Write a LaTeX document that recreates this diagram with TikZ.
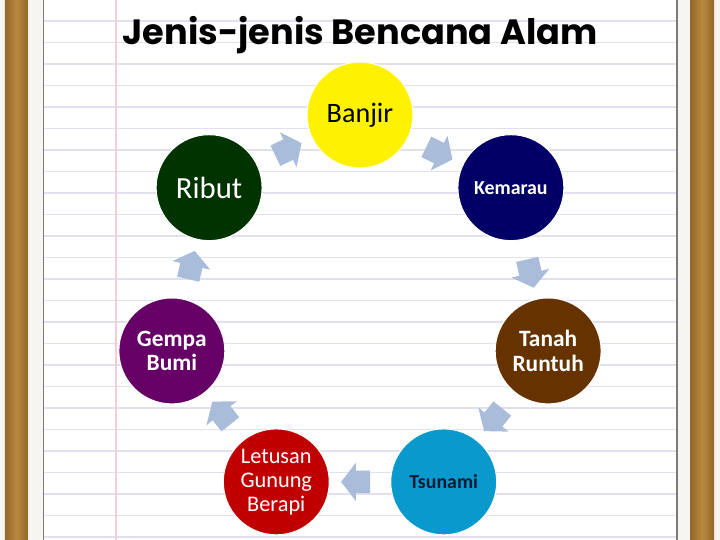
\documentclass[tikz,border=0pt]{standalone}
\usepackage{fontspec}
\setmainfont{Carlito}
\newfontfamily\titlefont{Poppins}
\usetikzlibrary{shapes.arrows}
\usetikzlibrary{positioning}

\definecolor{wood}{HTML}{B8893F}
\definecolor{wooddark}{HTML}{94672A}
\definecolor{gap}{HTML}{F6F5F2}
\definecolor{rule}{HTML}{E0E0EF}
\definecolor{margin}{HTML}{F2CCD6}
\definecolor{edge}{HTML}{7A7A7A}
\definecolor{flowblue}{HTML}{A9BCDA}
\definecolor{navy}{HTML}{000066}
\definecolor{soil}{HTML}{663300}
\definecolor{sea}{HTML}{0A99CC}
\definecolor{ink}{HTML}{0A1A33}
\definecolor{lava}{HTML}{C00000}
\definecolor{quake}{HTML}{660066}
\definecolor{storm}{HTML}{003300}

\begin{document}
\begin{tikzpicture}[x=0.02cm,y=0.02cm,
	disaster/.style={circle, draw=white, line width=0.6pt, minimum size=2.12cm, inner sep=0pt,
		align=center, text=white, font=\bfseries\fontsize{13.3}{14.2}\selectfont},
	flow/.style={single arrow, fill=flowblue, draw=none, inner xsep=0pt, inner ysep=2.2mm,
		minimum height=5.8mm, single arrow head extend=1.6mm,
		single arrow tip angle=105, sloped, allow upside down}]

	% notebook page
	\useasboundingbox (-360,-232) rectangle (360,308);
	\fill[gap] (-360,-232) rectangle (360,308);
	\shade[left color=wooddark, right color=wooddark, middle color=wood] (-355,-232) rectangle (-332,308);
	\shade[left color=wooddark, right color=wooddark, middle color=wood] (330,-232) rectangle (354,308);
	\fill[white] (-316.5,-232) rectangle (317,308);
	\foreach \k in {0,...,24}
		\draw[rule, line width=0.6pt] (-316.5,287-21.5*\k) -- (317,287-21.5*\k);
	\draw[margin, line width=0.6pt] (-244,-232) -- (-244,308);
	\draw[edge, line width=1pt] (-316.5,-232) -- (-316.5,308);
	\draw[edge, line width=1pt] (317,-232) -- (317,308);

	\node[anchor=base, font=\titlefont\bfseries\fontsize{20}{24}\selectfont] (title) at (0,263) {Jenis-jenis Bencana Alam};

	% the cycle
	\node[disaster, fill=yellow, text=black, font=\fontsize{16}{18}\selectfont] (banjir) at (90:193) {Banjir};
	\node[disaster, fill=navy, font=\bfseries\fontsize{11.3}{13}\selectfont] (kemarau) at (38.57:193) {Kemarau};
	\node[disaster, fill=soil] (tanah) at (-12.86:193) {Tanah\\Runtuh};
	\node[disaster, fill=sea, text=ink, font=\bfseries\fontsize{11.3}{13}\selectfont] (tsunami) at (-64.29:193) {Tsunami};
	\node[disaster, fill=lava, font=\fontsize{12.7}{13.6}\selectfont] (letusan) at (-115.71:193) {Letusan\\Gunung\\Berapi};
	\node[disaster, fill=quake] (gempa) at (-167.14:193) {Gempa\\Bumi};
	\node[disaster, fill=storm, font=\fontsize{17.5}{20}\selectfont] (ribut) at (141.43:193) {Ribut};

	\path (banjir) -- node[flow] {} (kemarau);
	\path (kemarau) -- node[flow] {} (tanah);
	\path (tanah) -- node[flow] {} (tsunami);
	\path (tsunami) -- node[flow] {} (letusan);
	\path (letusan) -- node[flow] {} (gempa);
	\path (gempa) -- node[flow] {} (ribut);
	\path (ribut) -- node[flow] {} (banjir);
\end{tikzpicture}
\end{document}
